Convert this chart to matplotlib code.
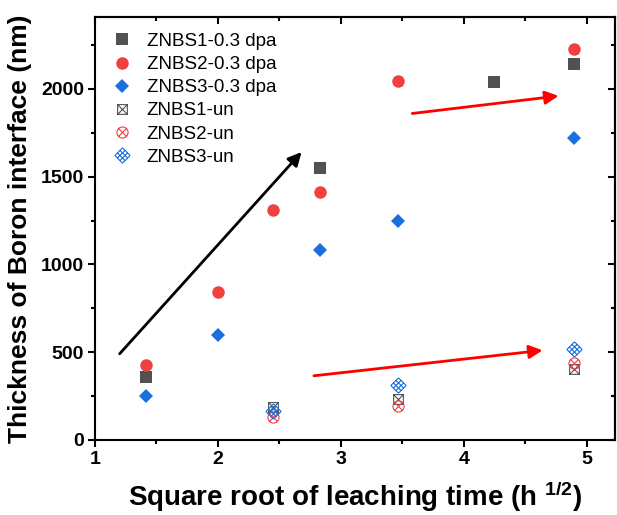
import numpy as np
import matplotlib
matplotlib.use('Agg')
import matplotlib.pyplot as plt
from matplotlib.path import Path
from matplotlib.ticker import MultipleLocator

plt.rcParams['font.family'] = ['Liberation Sans', 'DejaVu Sans']
plt.rcParams['mathtext.fontset'] = 'custom'
plt.rcParams['mathtext.bf'] = 'Liberation Sans:bold'
plt.rcParams['mathtext.rm'] = 'Liberation Sans'

# data: x = square root of leaching time (h^1/2), y = thickness (nm)
x_irr1 = [1.414, 2.828, 4.243, 4.899]
y_irr1 = [360, 1550, 2040, 2140]
x_irr2 = [1.414, 2.0, 2.449, 2.828, 3.464, 4.899]
y_irr2 = [425, 840, 1310, 1410, 2045, 2230]
x_irr3 = [1.414, 2.0, 2.828, 3.464, 4.899]
y_irr3 = [250, 595, 1080, 1250, 1720]

x_un = [2.449, 3.464, 4.899]
y_un1 = [185, 235, 405]
y_un2 = [130, 190, 440]
y_un3 = [165, 310, 515]

# trend arrows (tail -> head, data coords)
arrows = [((1.2, 490), (2.68, 1640), 'black'),
          ((3.58, 1860), (4.77, 1960), 'red'),
          ((2.78, 365), (4.64, 510), 'red')]

c1, c2, c3 = '#515151', '#F14040', '#1A6FDF'

# custom open markers (Origin style)
def square_x():
    v = [(-1, -1), (1, -1), (1, 1), (-1, 1), (-1, -1),
         (-1, -1), (1, 1), (-1, 1), (1, -1)]
    c = [Path.MOVETO, Path.LINETO, Path.LINETO, Path.LINETO, Path.CLOSEPOLY,
         Path.MOVETO, Path.LINETO, Path.MOVETO, Path.LINETO]
    return Path(v, c)

def circle_x():
    circ = Path.unit_circle()
    d = 0.7071
    cross = Path([(-d, -d), (d, d), (-d, d), (d, -d)],
                 [Path.MOVETO, Path.LINETO, Path.MOVETO, Path.LINETO])
    return Path.make_compound_path(circ, cross)

def lattice_diamond():
    verts, codes = [], []
    r = np.sqrt(0.5)
    rot = lambda u, v: ((u - v) * r, (u + v) * r)
    for t in [-1, -1 / 3, 1 / 3, 1]:
        verts += [rot(t, -1), rot(t, 1), rot(-1, t), rot(1, t)]
        codes += [Path.MOVETO, Path.LINETO, Path.MOVETO, Path.LINETO]
    return Path(verts, codes)

fig = plt.figure(figsize=(6.17, 5.15), dpi=100)
ax = fig.add_axes([0.154, 0.146, 0.843, 0.821])

ax.plot(x_irr1, y_irr1, 's', color=c1, ms=8, mew=0, ls='none', label='ZNBS1-0.3 dpa')
ax.plot(x_irr2, y_irr2, 'o', color=c2, ms=9, mew=0, ls='none', label='ZNBS2-0.3 dpa')
ax.plot(x_irr3, y_irr3, 'D', color=c3, ms=7.5, mew=0, ls='none', label='ZNBS3-0.3 dpa')
ax.plot(x_un, y_un1, marker=square_x(), color=c1, mfc='none', ms=7, mew=0.8, ls='none', label='ZNBS1-un')
ax.plot(x_un, y_un2, marker=circle_x(), color=c2, mfc='none', ms=8, mew=0.8, ls='none', label='ZNBS2-un')
ax.plot(x_un, y_un3, marker=lattice_diamond(), color=c3, mfc='none', ms=11, mew=0.8, ls='none', label='ZNBS3-un')

for (x0, y0), (x1, y1), col in arrows:
    ax.annotate('', xy=(x1, y1), xytext=(x0, y0),
                arrowprops=dict(arrowstyle='-|>', color=col, lw=2, mutation_scale=20, shrinkA=0, shrinkB=0))

ax.set_xlim(1, 5.23)
ax.set_ylim(0, 2410)
ax.xaxis.set_major_locator(MultipleLocator(1))
ax.xaxis.set_minor_locator(MultipleLocator(0.5))
ax.yaxis.set_major_locator(MultipleLocator(500))
ax.yaxis.set_minor_locator(MultipleLocator(250))

for s in ax.spines.values():
    s.set_linewidth(1.5)
ax.tick_params(which='major', direction='out', length=5, width=1.5, labelsize=14, pad=3)
ax.tick_params(which='minor', direction='out', length=3, width=1.5)
for lab in ax.get_xticklabels() + ax.get_yticklabels():
    lab.set_fontweight('bold')

# inward ticks on top and right, like Origin
top = ax.secondary_xaxis('top')
top.xaxis.set_major_locator(MultipleLocator(1))
top.xaxis.set_minor_locator(MultipleLocator(0.5))
top.tick_params(which='major', direction='in', length=5, width=1.5, labeltop=False)
top.tick_params(which='minor', direction='in', length=3, width=1.5)
right = ax.secondary_yaxis('right')
right.yaxis.set_major_locator(MultipleLocator(500))
right.yaxis.set_minor_locator(MultipleLocator(250))
right.tick_params(which='major', direction='in', length=5, width=1.5, labelright=False)
right.tick_params(which='minor', direction='in', length=3, width=1.5)
for sec in (top, right):
    for s in sec.spines.values():
        s.set_linewidth(1.5)

ax.set_xlabel(r'Square root of leaching time (h $\mathbf{^{1/2}}$)', fontsize=20, fontweight='bold', labelpad=8)
ax.set_ylabel('Thickness of Boron interface (nm)', fontsize=19, fontweight='bold', labelpad=6)

ax.legend(loc='upper left', frameon=False, fontsize=13.5, handletextpad=0.7,
          labelspacing=0.32, borderaxespad=0.45, handlelength=1.2)

fig.savefig('out.png', dpi=100)
